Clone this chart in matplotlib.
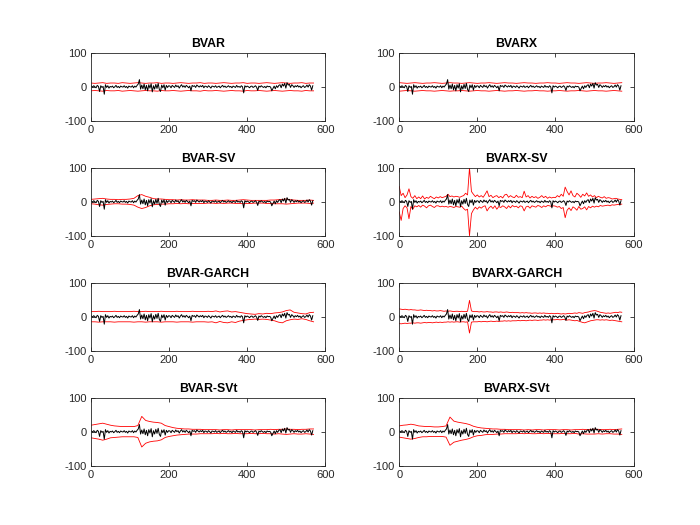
"""
Forecast errors with red error bands, 8 models (BVAR family).
"""

import numpy as np
import matplotlib
matplotlib.use('Agg')
import matplotlib.pyplot as plt

plt.rcParams['font.family'] = ['Liberation Sans', 'DejaVu Sans']
plt.rcParams['axes.unicode_minus'] = False

# %%
# Data
# -------------------------

# black series, one value every 3 periods starting at 1
errors = [2, -1, 3, 0, -3, 4, 1,
          -14,
          3, -2, 1,
          -22, 6,
          -2, 3, -4, 1, -1, 2, -3, 0, 4, -2, 1, -3, 2, 0, -1, 3, -2, 1, -4, 2, 0, -1, 3,
          -3, 2, -1, 4,
          8, 21, -7,
          5, -6, 8, -9, 4, -12, 6, -4, 9, -15, 3, -7, 7, -5, 10, -8, -14, 5, -3, 6, -10, 4, -2, 3,
          2, -3, 4, 1, -2, 5, 0, 3, -4, 2, 6, -1, 3, -2, 4, 1, -3, 2,
          -12,
          4, 1, 3, -2, 5, 2, -1, 3, 0, 4, -3, 2, 1, -2, 3, 0, -4, 2, 1, -1, 3, -2,
          0, 2, -3, 1, 4, -1, 2, -2, 0, 3, -1, 1, -3, 2, 0, -2, 4, -1, 1, -2, 3, 0,
          -18,
          3, -1, 2, 0, -3, 1, 2, -2, 0, 3, -1,
          -11,
          2, -1, 3, 0, -2, 1, -3, 2, 0, 1, -1,
          -12,
          -5, 2, -6, 3, -2, 4,
          6, -3, 8, 2, 10, -4, 12, 5, 7, -2, 6, 3,
          -2, 3, 0, 4, -1, 2, -3, 1, 3, -2, 0, 5, -1, 6, 2, -10, 3]

# bands sampled every 10 periods (0..570)
bvar_up = [11, 10, 11, 12, 10, 11, 11, 10, 12, 11,
           10, 11, 12, 11, 10, 11, 11, 12, 10, 11,
           11, 10, 11, 12, 11, 10, 11, 11, 12, 10,
           11, 11, 10, 11, 12, 11, 10, 11, 11, 12,
           10, 11, 11, 10, 11, 12, 11, 10, 11, 12,
           11, 10, 11, 11, 12, 10, 11, 11]
bvar_lo = [-12, -11, -12, -13, -11, -12, -12, -11, -13, -12,
           -11, -12, -13, -12, -11, -12, -12, -13, -11, -12,
           -12, -11, -12, -13, -12, -11, -12, -12, -13, -11,
           -12, -12, -11, -12, -13, -12, -11, -12, -12, -13,
           -11, -12, -12, -11, -12, -13, -12, -11, -12, -13,
           -12, -11, -12, -12, -13, -11, -12, -12]

bvarx_up = [12, 11, 10, 11, 12, 11, 10, 11, 11, 12,
            11, 10, 11, 12, 11, 11, 10, 11, 12, 11,
            10, 11, 11, 12, 11, 10, 11, 12, 11, 11,
            10, 11, 12, 11, 11, 10, 11, 11, 12, 11,
            11, 10, 11, 12, 11, 11, 10, 11, 12, 11,
            10, 11, 11, 12, 11, 10, 11, 12]
bvarx_lo = [-13, -12, -11, -12, -13, -12, -11, -12, -12, -13,
            -12, -11, -12, -13, -12, -12, -11, -12, -13, -12,
            -11, -12, -12, -13, -12, -11, -12, -13, -12, -12,
            -11, -12, -13, -12, -12, -11, -12, -12, -13, -12,
            -12, -11, -12, -13, -12, -12, -11, -12, -13, -12,
            -11, -12, -12, -13, -12, -11, -12, -13]

bvarsv_up = [7, 8, 9, 10, 8, 7, 7, 6, 7, 7,
             8, 10, 18, 21, 16, 13, 9, 8, 8, 7,
             6, 6, 5, 6, 5, 5, 6, 5, 5, 5,
             4, 4, 5, 4, 4, 5, 4, 4, 5, 6,
             5, 4, 4, 4, 4, 4, 5, 5, 6, 7,
             8, 6, 5, 4, 4, 4, 5, 4]
bvarsv_lo = [-6, -7, -9, -10, -8, -7, -6, -6, -7, -7,
             -8, -10, -16, -20, -17, -12, -9, -8, -7, -7,
             -6, -6, -5, -6, -5, -6, -5, -5, -5, -5,
             -4, -4, -5, -4, -5, -4, -4, -5, -5, -6,
             -5, -5, -4, -4, -4, -5, -5, -6, -6, -6,
             -7, -6, -5, -4, -4, -4, -5, -4]

bvargarch_up = [15, 15, 16, 15, 15, 15, 16, 15, 15, 15,
                15, 16, 15, 15, 16, 15, 15, 15, 16, 15,
                15, 15, 16, 15, 15, 15, 16, 15, 15, 15,
                16, 15, 17, 14, 16, 17, 14, 15, 13, 11,
                9, 8, 7, 9, 8, 10, 9, 11, 12, 14,
                18, 20, 13, 11, 9, 8, 12, 13]
bvargarch_lo = [-15, -15, -16, -15, -15, -15, -16, -15, -15, -15,
                -15, -16, -15, -15, -16, -15, -15, -15, -16, -15,
                -15, -15, -16, -15, -15, -15, -16, -15, -15, -15,
                -16, -15, -18, -14, -17, -18, -15, -17, -13, -11,
                -9, -8, -7, -8, -7, -8, -10, -12, -16, -18,
                -12, -9, -7, -8, -6, -8, -12, -15]

bvarsvt_up = [19, 21, 23, 25, 22, 19, 17, 16, 15, 15,
              15, 15, 18, 45, 33, 30, 28, 27, 25, 18,
              15, 12, 10, 9, 8, 8, 7, 7, 7, 6,
              6, 6, 6, 5, 6, 6, 5, 6, 6, 6,
              6, 6, 5, 6, 6, 6, 7, 6, 7, 7,
              8, 7, 7, 6, 7, 7, 8, 8]
bvarsvt_lo = [-18, -20, -22, -25, -22, -18, -17, -16, -15, -15,
              -15, -15, -17, -45, -34, -30, -28, -27, -24, -17,
              -14, -12, -10, -9, -8, -7, -7, -7, -6, -6,
              -6, -6, -5, -6, -5, -6, -6, -5, -6, -6,
              -6, -5, -6, -6, -5, -6, -6, -7, -6, -7,
              -8, -7, -6, -7, -7, -6, -7, -8]

bvarxsvt_up = [17, 19, 20, 22, 20, 17, 16, 15, 15, 14,
               14, 15, 17, 43, 31, 28, 26, 24, 21, 16,
               13, 11, 10, 9, 8, 8, 7, 7, 6, 6,
               6, 6, 5, 6, 5, 6, 6, 5, 6, 6,
               6, 5, 6, 6, 5, 6, 6, 7, 6, 7,
               7, 7, 6, 6, 7, 6, 7, 8]
bvarxsvt_lo = [-16, -18, -20, -22, -20, -17, -15, -15, -14, -14,
               -14, -14, -16, -40, -31, -28, -25, -23, -20, -15,
               -12, -11, -9, -8, -8, -7, -7, -6, -6, -6,
               -6, -5, -6, -5, -6, -6, -5, -6, -5, -6,
               -6, -6, -5, -6, -6, -5, -7, -6, -7, -7,
               -7, -6, -7, -6, -6, -7, -7, -8]

# bands sampled every 5 periods (0..570)
bvarxsv_up = [45, 18, 25, 12, 20, 38, 15, 10, 18, 9,
              14, 9, 17, 8, 13, 10, 16, 12, 9, 14,
              11, 15, 12, 14, 16, 22, 15, 17, 14, 16,
              15, 13, 16, 18, 25, 20, 100, 30, 22, 15,
              20, 14, 18, 13, 22, 32, 15, 19, 12, 16,
              18, 12, 16, 11, 20, 22, 13, 18, 14, 12,
              19, 13, 15, 12, 31, 14, 18, 11, 16, 12,
              15, 10, 13, 18, 12, 16, 10, 14, 11, 13,
              12, 18, 14, 22, 16, 43, 30, 20, 32, 18,
              14, 25, 20, 13, 22, 17, 26, 16, 20, 14,
              18, 12, 16, 13, 11, 15, 10, 12, 11, 8,
              9, 10, 8, 7, 6]
bvarxsv_lo = [-30, -55, -20, -12, -18, -50, -14, -22, -12, -15,
              -11, -16, -10, -13, -18, -12, -10, -14, -17, -12,
              -12, -15, -13, -15, -14, -16, -14, -15, -17, -14,
              -15, -16, -13, -20, -25, -22, -100, -35, -24, -16,
              -22, -15, -19, -14, -12, -27, -18, -13, -20, -12,
              -22, -14, -17, -12, -15, -20, -12, -18, -11, -15,
              -13, -18, -12, -14, -27, -15, -13, -19, -12, -14,
              -16, -11, -13, -17, -12, -15, -11, -12, -14, -12,
              -13, -16, -14, -20, -17, -47, -25, -18, -26, -15,
              -19, -25, -14, -22, -20, -15, -24, -14, -18, -13,
              -16, -13, -15, -11, -13, -12, -11, -10, -12, -9,
              -10, -9, -8, -8, -7]

bvarxgarch_up = [23, 22, 21, 22, 21, 20, 21, 20, 20, 19,
                 19, 20, 19, 18, 19, 18, 18, 17, 18, 17,
                 17, 18, 17, 16, 17, 16, 17, 16, 15, 16,
                 16, 15, 16, 15, 15, 16, 48, 17, 15, 15,
                 15, 14, 15, 14, 14, 15, 14, 14, 13, 14,
                 14, 13, 14, 13, 13, 14, 13, 12, 13, 12,
                 12, 12, 11, 12, 11, 12, 11, 11, 10, 11,
                 11, 10, 11, 10, 11, 10, 10, 9, 10, 9,
                 9, 10, 9, 8, 9, 8, 9, 10, 9, 10,
                 11, 10, 12, 11, 10, 12, 13, 14, 16, 17,
                 18, 17, 15, 13, 12, 11, 10, 11, 10, 11,
                 12, 13, 12, 14, 13]
bvarxgarch_lo = [-20, -21, -20, -19, -20, -19, -19, -18, -19, -18,
                 -18, -19, -18, -17, -18, -17, -17, -18, -17, -16,
                 -17, -16, -17, -16, -16, -15, -16, -15, -16, -15,
                 -15, -16, -15, -15, -16, -15, -48, -16, -15, -15,
                 -15, -14, -15, -14, -14, -15, -14, -13, -14, -14,
                 -13, -14, -13, -13, -12, -13, -12, -13, -12, -12,
                 -12, -11, -12, -11, -11, -12, -11, -10, -11, -10,
                 -10, -11, -10, -10, -9, -10, -9, -10, -9, -9,
                 -9, -8, -9, -9, -8, -9, -10, -9, -10, -11,
                 -12, -11, -13, -15, -17, -18, -16, -14, -12, -11,
                 -10, -9, -9, -10, -9, -10, -9, -10, -11, -10,
                 -11, -12, -13, -14, -15]

titles = ['BVAR', 'BVARX', 'BVAR-SV', 'BVARX-SV',
          'BVAR-GARCH', 'BVARX-GARCH', 'BVAR-SVt', 'BVARX-SVt']
bands = [(bvar_up, bvar_lo, 10), (bvarx_up, bvarx_lo, 10),
         (bvarsv_up, bvarsv_lo, 10), (bvarxsv_up, bvarxsv_lo, 5),
         (bvargarch_up, bvargarch_lo, 10), (bvarxgarch_up, bvarxgarch_lo, 5),
         (bvarsvt_up, bvarsvt_lo, 10), (bvarxsvt_up, bvarxsvt_lo, 10)]

# %%
# Plot
# ----

fig = plt.figure(figsize=(7, 5.25), dpi=100)
lefts = [0.13, 0.5703]
bottoms = [0.770, 0.551, 0.332, 0.113]
grey = '#262626'

xk = 1 + 3 * np.arange(len(errors))

for k, (title, (up, lo, step)) in enumerate(zip(titles, bands)):
    ax = fig.add_axes([lefts[k % 2], bottoms[k // 2], 0.3347, 0.1295])
    xb = step * np.arange(len(up))
    ax.plot(xb, up, color='r', lw=0.6)
    ax.plot(xb, lo, color='r', lw=0.6)
    ax.plot(xk, errors, color='k', lw=0.7)
    ax.set_xlim(0, 600)
    ax.set_ylim(-100, 100)
    ax.set_xticks([0, 200, 400, 600])
    ax.set_yticks([-100, 0, 100])
    ax.tick_params(direction='in', top=True, right=True, length=3, width=0.6,
                   labelsize=8, colors=grey, pad=3)
    for s in ax.spines.values():
        s.set_linewidth(0.6)
        s.set_color(grey)
    ax.set_title(title, fontsize=8.8, fontweight='bold', color='k', pad=4)

fig.savefig('out.png')
